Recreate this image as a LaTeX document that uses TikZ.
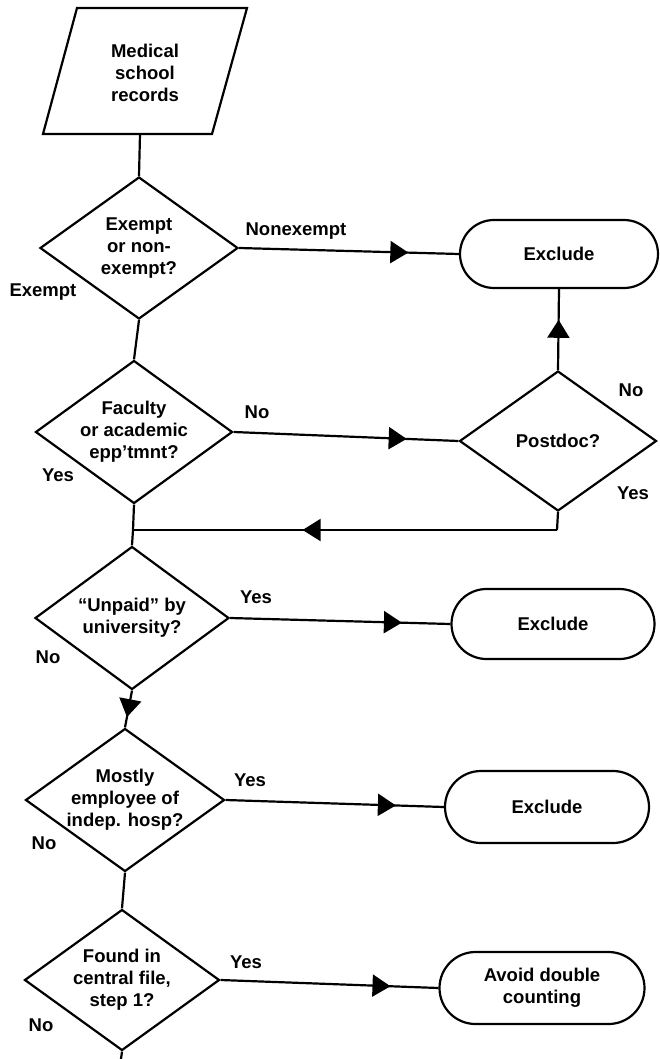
\documentclass[tikz,border=0pt]{standalone}
\usepackage{fontspec}
\setmainfont{Liberation Sans}
\usetikzlibrary{shapes.geometric,shapes.misc,arrows.meta,decorations.markings}
\begin{document}
\begin{tikzpicture}[x=1pt,y=-1pt,
  every node/.style={font=\fontsize{18.5}{22}\selectfont\bfseries},
  conn/.style={line width=2.2pt},
  dec/.style={draw,line width=2.2pt,diamond,aspect=1.4,inner xsep=-40pt,inner ysep=-30pt,align=center},
  pill/.style={draw,line width=2.2pt,rounded rectangle,inner sep=0pt,align=center,minimum width=203pt,minimum height=70pt},
  midarrow/.style={postaction={decorate},decoration={markings,mark=at position #1 with {\arrow{Triangle[length=18pt,width=22pt]}}}},
  lbl/.style={inner sep=0pt}
]
\useasboundingbox (0,0) rectangle (660,1059);

\draw[line width=2.2pt,line join=miter] (43,134) -- (77,8) -- (247,8) -- (212,134) -- cycle;
\node[inner sep=0pt,align=center] (src) at (145,73) {Medical\\school\\records};
\coordinate (srcb) at (140,134);

\node[dec,minimum width=198pt,minimum height=142pt] (d1) at (139,248) {Exempt\\or non-\\exempt?};
\node[pill,minimum width=198pt,minimum height=68pt] (ex1) at (559,254) {Exclude};
\node[dec,minimum width=197pt,minimum height=143pt] (d2) at (134,432) {Faculty\\or academic\\epp'tmnt?};
\node[dec,minimum width=197pt,minimum height=140pt] (pd) at (558,441) {Postdoc?};
\coordinate (j) at (133,530);
\coordinate (pdb) at (557,530);
\node[dec,minimum width=194pt,minimum height=143pt] (d3) at (132,618) {``Unpaid'' by\\university?};
\node[pill] (ex2) at (553,624) {Exclude};
\node[dec,minimum width=199pt,minimum height=143pt] (d4) at (125,800) {Mostly\\employee of\\indep. hosp?};
\node[pill,minimum width=204pt,minimum height=72pt] (ex3) at (547,807) {Exclude};
\node[dec,minimum width=195pt,minimum height=141pt] (d5) at (122,980) {Found in\\central file,\\step 1?};
\node[pill,minimum width=205pt,minimum height=72pt] (ex4) at (542,988) {Avoid double\\counting};
\coordinate (bot) at (121,1059);

% labels
\node[lbl] (l1) at (296,231) {Nonexempt};
\node[lbl] (l2) at (43,292) {Exempt};
\node[lbl] (l3) at (257,412) {No};
\node[lbl] (l4) at (58,475) {Yes};
\node[lbl] (l5) at (631,390) {No};
\node[lbl] (l6) at (633,493) {Yes};
\node[lbl] (l7) at (256,597) {Yes};
\node[lbl] (l8) at (48,657) {No};
\node[lbl] (l9) at (250,780) {Yes};
\node[lbl] (l10) at (44,843) {No};
\node[lbl] (l11) at (246,962) {Yes};
\node[lbl] (l12) at (41,1025) {No};

% connectors
\draw[conn] (srcb) -- (d1.north);
\draw[conn,midarrow=0.77] (d1.east) -- (ex1.west);
\draw[conn] (d1.south) -- (d2.north);
\draw[conn,midarrow=0.77] (d2.east) -- (pd.west);
\draw[conn,midarrow=0.62] (pd.north) -- (ex1.south);
\draw[conn] (pd.south) -- (pdb);
\draw[conn,midarrow=0.60] (pdb) -- (j);
\draw[conn] (d2.south) -- (j) -- (d3.north);
\draw[conn,midarrow=0.78] (d3.east) -- (ex2.west);
\draw[conn,midarrow=0.72] (d3.south) -- (d4.north);
\draw[conn,midarrow=0.78] (d4.east) -- (ex3.west);
\draw[conn] (d4.south) -- (d5.north);
\draw[conn,midarrow=0.78] (d5.east) -- (ex4.west);
\draw[conn] (d5.south) -- (bot);
\end{tikzpicture}
\end{document}
